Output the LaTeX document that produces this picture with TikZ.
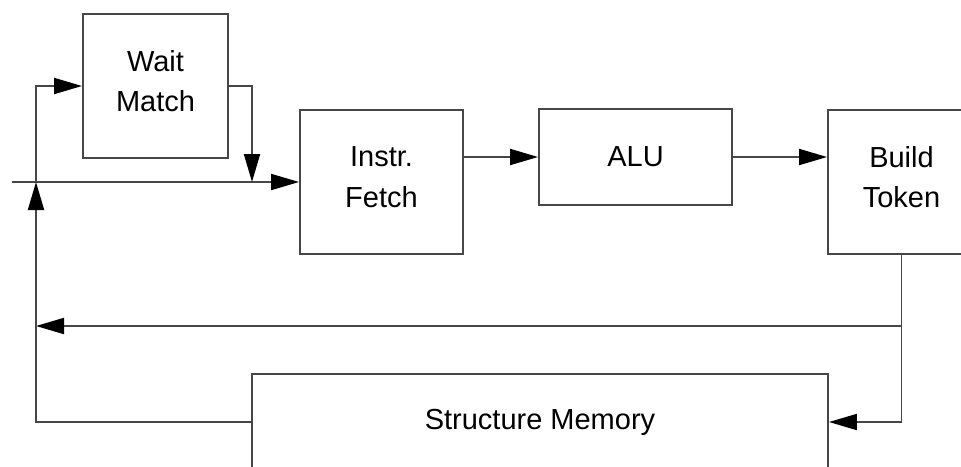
\documentclass[tikz,border=0pt]{standalone}
\usepackage{fontspec}
\setmainfont{Liberation Sans}
\usetikzlibrary{arrows.meta}

\begin{document}
\begin{tikzpicture}[line width=1.1pt,draw=black!72,
    >={Triangle[length=0.56cm,width=0.32cm,color=black]}]
    \tikzstyle{unit}=[draw=black!72,rectangle,align=center,font=\fontsize{16.5}{23}\selectfont]
    \tikzstyle{twoline}=[unit,text depth=0.2cm]
    \clip (0,0) rectangle (19.22,-9.32);
    % boxes
    \node[twoline,minimum width=2.9cm,minimum height=2.88cm] (wait) at (3.11,-1.72) {Wait\\Match};
    \node[twoline,minimum width=3.26cm,minimum height=2.88cm] (fetch) at (7.63,-3.64) {Instr.\\Fetch};
    \node[unit,minimum width=3.86cm,minimum height=1.92cm] (alu) at (12.71,-3.14) {ALU};
    \node[twoline,minimum width=2.94cm,minimum height=2.88cm] (build) at (18.03,-3.64) {Build\\Token};
    \node[unit,minimum width=11.52cm,minimum height=1.92cm] (mem) at (10.8,-8.44) {Structure Memory};
    % junctions
    \coordinate (in) at (0.24,-3.64);
    \coordinate (j) at (0.72,-3.64);
    \coordinate (d) at (5.04,-3.64);
    \coordinate (back) at (0.72,-6.52);
    % connectors
    \draw[->] (in) -- (fetch.west);
    \draw[->] (j) |- (wait.west);
    \draw[->] (wait.east) -| (d);
    \draw[->] (fetch.east |- alu.west) -- (alu.west);
    \draw[->] (alu.east) -- (alu.east -| build.west);
    \draw[->] (build.south) |- (mem.east);
    \draw[->] (build.south |- back) -- (back);
    \draw[->] (mem.west) -| (j);
  \end{tikzpicture}
\end{document}
